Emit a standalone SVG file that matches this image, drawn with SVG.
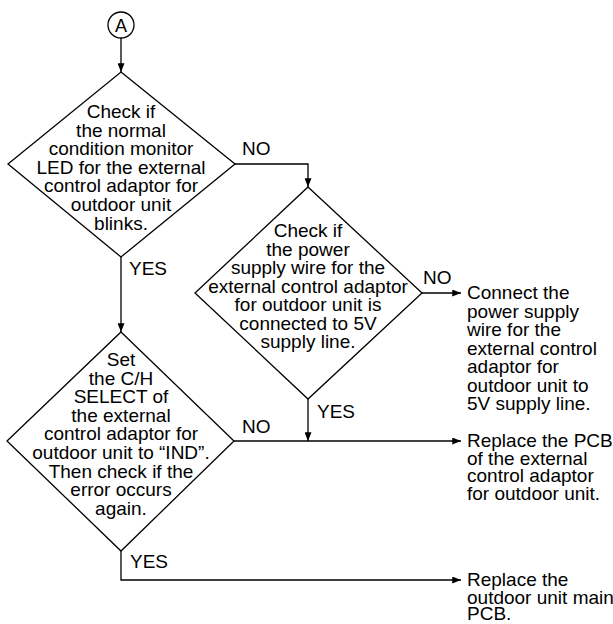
<svg xmlns="http://www.w3.org/2000/svg" width="613" height="624" viewBox="0 0 613 624">
<defs>
<marker id="arr" viewBox="0 0 10 8" refX="10" refY="4" markerWidth="9" markerHeight="7" markerUnits="userSpaceOnUse" orient="auto">
<path d="M0,0 L10,4 L0,8 Z" fill="#000"/>
</marker>
<style>
.shape{fill:#fff;stroke:#000;stroke-width:1.3}
.conn{fill:none;stroke:#000;stroke-width:1.3}
text{font-family:"Liberation Sans",Arial,sans-serif;font-size:19px;fill:#000}
.c{text-anchor:middle}
</style>
</defs>
<rect width="613" height="624" fill="#fff"/>
<g id="connectors">
<path class="conn" d="M121,38 V72" marker-end="url(#arr)"/>
<path class="conn" d="M235,164 H308 V187" marker-end="url(#arr)"/>
<path class="conn" d="M121,257 V332" marker-end="url(#arr)"/>
<path class="conn" d="M422,293 H461" marker-end="url(#arr)"/>
<path class="conn" d="M308,399 V441" marker-end="url(#arr)"/>
<path class="conn" d="M234,441 H461" marker-end="url(#arr)"/>
<path class="conn" d="M121,551 V580 H461" marker-end="url(#arr)"/>
<text x="242" y="155">NO</text>
<text x="129" y="275">YES</text>
<text x="423" y="284">NO</text>
<text x="317" y="418">YES</text>
<text x="242" y="433">NO</text>
<text x="130" y="568">YES</text>
</g>
<g id="start">
<circle class="shape" cx="121" cy="25" r="13"/>
<text class="c" x="121" y="31.5" style="font-size:18px">A</text>
</g>
<g id="d1">
<polygon class="shape" points="121,72 235,164 121,257 8,164"/>
<text class="c"><tspan x="121" y="118">Check if</tspan><tspan x="121" y="136.6">the normal</tspan><tspan x="121" y="155.2">condition monitor</tspan><tspan x="121" y="173.8">LED for the external</tspan><tspan x="121" y="192.4">control adaptor for</tspan><tspan x="121" y="211">outdoor unit</tspan><tspan x="121" y="229.6">blinks.</tspan></text>
</g>
<g id="d2">
<polygon class="shape" points="308,187 422,293 308,399 195,293"/>
<text class="c"><tspan x="308" y="237">Check if</tspan><tspan x="308" y="255.5">the power</tspan><tspan x="308" y="274">supply wire for the</tspan><tspan x="308" y="292.5">external control adaptor</tspan><tspan x="308" y="311">for outdoor unit is</tspan><tspan x="308" y="329.5">connected to 5V</tspan><tspan x="308" y="348">supply line.</tspan></text>
</g>
<g id="d3">
<polygon class="shape" points="121,332 234,441 121,551 7,441"/>
<text class="c"><tspan x="121" y="366">Set</tspan><tspan x="121" y="384.6">the C/H</tspan><tspan x="121" y="403.2">SELECT of</tspan><tspan x="121" y="421.8">the external</tspan><tspan x="121" y="440.4">control adaptor for</tspan><tspan x="121" y="459">outdoor unit to “IND”.</tspan><tspan x="121" y="477.6">Then check if the</tspan><tspan x="121" y="496.2">error occurs</tspan><tspan x="121" y="514.8">again.</tspan></text>
</g>
<g id="r1">
<text><tspan x="467" y="299">Connect the</tspan><tspan x="467" y="317.5">power supply</tspan><tspan x="467" y="336">wire for the</tspan><tspan x="467" y="354.5">external control</tspan><tspan x="467" y="373">adaptor for</tspan><tspan x="467" y="391.5">outdoor unit to</tspan><tspan x="467" y="410">5V supply line.</tspan></text>
</g>
<g id="r2">
<text><tspan x="467" y="447">Replace the PCB</tspan><tspan x="467" y="464.5">of the external</tspan><tspan x="467" y="482">control adaptor</tspan><tspan x="467" y="499.5">for outdoor unit.</tspan></text>
</g>
<g id="r3">
<text><tspan x="467" y="586">Replace the</tspan><tspan x="467" y="603.5">outdoor unit main</tspan><tspan x="467" y="620">PCB.</tspan></text>
</g>
</svg>
